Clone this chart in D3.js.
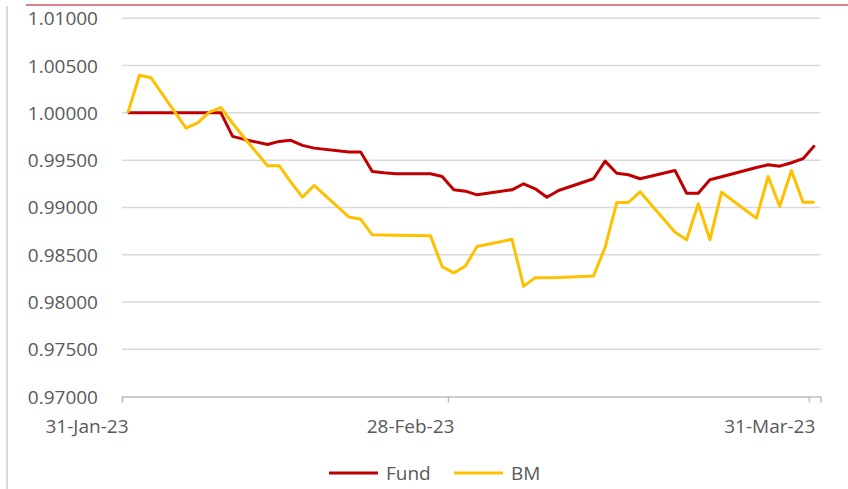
<!DOCTYPE html>
<html>
<head>
<meta charset="utf-8">
<script src="https://cdn.jsdelivr.net/npm/d3@7"></script>
<style>
  html, body { margin: 0; padding: 0; background: #fff; }
  svg { display: block; }
  text { font-family: "Open Sans", "Noto Sans", sans-serif; fill: #595959; }
</style>
</head>
<body>
<svg id="chart" width="848" height="489"></svg>
<script>
// ---- data ----
const dates = [
  "2023-01-31","2023-02-01","2023-02-02","2023-02-05","2023-02-06","2023-02-07","2023-02-08","2023-02-09","2023-02-10",
  "2023-02-12","2023-02-13","2023-02-14","2023-02-15","2023-02-16","2023-02-19","2023-02-20","2023-02-21","2023-02-22",
  "2023-02-23","2023-02-26","2023-02-27","2023-02-28","2023-03-01","2023-03-02","2023-03-05","2023-03-06","2023-03-07",
  "2023-03-08","2023-03-09","2023-03-12","2023-03-13","2023-03-14","2023-03-15","2023-03-16","2023-03-19","2023-03-20",
  "2023-03-21","2023-03-22","2023-03-23","2023-03-26","2023-03-27","2023-03-28","2023-03-29","2023-03-30","2023-03-31"
];
const fund = [
  1.00000,1.00000,1.00000,1.00000,1.00000,1.00000,1.00000,0.99751,0.99719,
  0.99666,0.99698,0.99709,0.99656,0.99627,0.99585,0.99585,0.99380,0.99366,
  0.99356,0.99356,0.99327,0.99186,0.99172,0.99133,0.99186,0.99250,0.99197,
  0.99108,0.99179,0.99303,0.99489,0.99362,0.99345,0.99303,0.99391,0.99150,
  0.99150,0.99292,0.99324,0.99422,0.99451,0.99436,0.99472,0.99515,0.99656
];
const bm = [
  1.00000,1.00397,1.00371,0.99839,0.99894,1.00008,1.00055,0.99890,0.99736,
  0.99441,0.99441,0.99267,0.99108,0.99232,0.98898,0.98875,0.98710,0.98708,
  0.98705,0.98699,0.98374,0.98307,0.98381,0.98586,0.98663,0.98165,0.98257,
  0.98256,0.98258,0.98275,0.98578,0.99052,0.99052,0.99165,0.98737,0.98657,
  0.99038,0.98657,0.99161,0.98886,0.99327,0.99010,0.99391,0.99055,0.99055
];
const seriesNames = ["Fund", "BM"];
const seriesColors = ["#C00000", "#FFC000"];
const yTicks = [0.970, 0.975, 0.980, 0.985, 0.990, 0.995, 1.000, 1.005, 1.010];
const xTickDates = ["2023-01-31", "2023-02-28", "2023-03-31"];
const xDomain = ["2023-01-31", "2023-04-01"];

// ---- chart ----
const parse = d3.utcParse("%Y-%m-%d");
const svg = d3.select("#chart");

const x = d3.scaleUtc()
  .domain(xDomain.map(parse))
  .range([122, 820.5]);
const y = d3.scaleLinear()
  .domain([0.97, 1.01])
  .range([396.5, 18.3]);

// decorative frame lines
svg.append("line").attr("x1", 26).attr("x2", 848).attr("y1", 5).attr("y2", 5)
  .attr("stroke", "#E0808F").attr("stroke-width", 2);
svg.append("line").attr("x1", 7).attr("x2", 7).attr("y1", 6).attr("y2", 489)
  .attr("stroke", "#D9D9D9").attr("stroke-width", 2);

// gridlines
svg.append("g").selectAll("line")
  .data(yTicks.filter(d => d > 0.97))
  .join("line")
  .attr("x1", 122).attr("x2", 820.5)
  .attr("y1", d => y(d)).attr("y2", d => y(d))
  .attr("stroke", "#D9D9D9").attr("stroke-width", 1.5);

// y labels
svg.append("g").selectAll("text")
  .data(yTicks)
  .join("text")
  .attr("x", 98)
  .attr("y", d => y(d) + 7)
  .attr("text-anchor", "end")
  .style("font-size", "19px")
  .text(d => d3.format(".5f")(d));

// x axis
const xAxis = d3.axisBottom(x)
  .tickValues(xTickDates.map(parse))
  .tickSize(6)
  .tickFormat(d3.utcFormat("%d-%b-%y"));
const gx = svg.append("g").attr("transform", `translate(0,${y(0.97)})`).call(xAxis);
gx.select(".domain").attr("stroke", "#BFBFBF").attr("stroke-width", 1.5);
gx.selectAll(".tick line").attr("stroke", "#BFBFBF").attr("stroke-width", 1.5);
gx.selectAll(".tick text")
  .attr("fill", "#595959")
  .attr("text-anchor", "end")
  .attr("dx", 6)
  .attr("y", 36)
  .attr("dy", 0)
  .style("font-size", "19px")
  .style("font-family", "'Open Sans', 'Noto Sans', sans-serif");

// lines (Fund first, BM drawn on top)
const dd = dates.map(parse);
const half = 12 * 3600 * 1000;
const lineGen = d3.line()
  .x((d, i) => x(new Date(dd[i].getTime() + half)))
  .y(d => y(d));

[fund, bm].forEach((vals, k) => {
  svg.append("path")
    .datum(vals)
    .attr("d", lineGen)
    .attr("fill", "none")
    .attr("stroke", seriesColors[k])
    .attr("stroke-width", 3)
    .attr("stroke-linejoin", "round");
});

// legend
const legendX = [329, 454];
const lg = svg.append("g");
seriesNames.forEach((name, k) => {
  lg.append("line")
    .attr("x1", legendX[k]).attr("x2", legendX[k] + 49)
    .attr("y1", 473).attr("y2", 473)
    .attr("stroke", seriesColors[k]).attr("stroke-width", 3);
  lg.append("text")
    .attr("x", legendX[k] + 57)
    .attr("y", 480)
    .style("font-size", "19px")
    .text(name);
});
</script>
</body>
</html>
